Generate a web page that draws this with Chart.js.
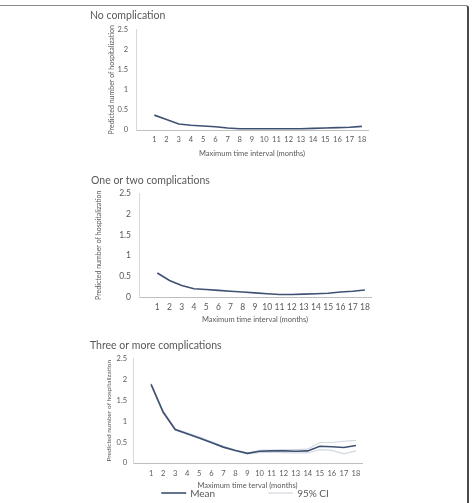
<!DOCTYPE html>
<html>
<head>
<meta charset="utf-8">
<script src="https://cdn.jsdelivr.net/npm/chart.js@4"></script>
<style>
    html, body { margin: 0; padding: 0; background: #fff; }
    body { width: 472px; height: 503px; position: relative; overflow: hidden; }
    canvas { position: absolute; left: 0; }
    #frame {
        position: absolute; left: -2px; top: 5px; width: 471px; height: 520px;
        border-top: 1px solid #8c8c8c; border-right: 2px solid #4a4a4a;
        border-top-right-radius: 3px; box-sizing: border-box;
    }
</style>
</head>
<body>
<div id="frame"></div>
<canvas id="chartNone" width="472" height="165" style="top:0px"></canvas>
<canvas id="chartOneTwo" width="472" height="165" style="top:165px"></canvas>
<canvas id="chartThree" width="472" height="173" style="top:330px"></canvas>
<script>
// Months on the x axis
const months = [1, 2, 3, 4, 5, 6, 7, 8, 9, 10, 11, 12, 13, 14, 15, 16, 17, 18];
const yTicks = [0, 0.5, 1, 1.5, 2, 2.5];

// Predicted number of hospitalization (mean)
const noCompMean = [0.37, 0.26, 0.15, 0.12, 0.10, 0.08, 0.05, 0.03, 0.03, 0.03, 0.03, 0.03, 0.03, 0.04, 0.05, 0.06, 0.07, 0.09];
const oneTwoMean = [0.58, 0.40, 0.28, 0.20, 0.18, 0.16, 0.14, 0.12, 0.10, 0.08, 0.06, 0.06, 0.07, 0.08, 0.09, 0.12, 0.14, 0.17];
const threeMean = [1.88, 1.22, 0.80, 0.70, 0.60, 0.49, 0.38, 0.30, 0.23, 0.28, 0.29, 0.29, 0.28, 0.29, 0.40, 0.39, 0.37, 0.42];
// 95% CI for three or more complications
const threeUpper = [1.90, 1.24, 0.82, 0.72, 0.62, 0.51, 0.40, 0.31, 0.24, 0.30, 0.31, 0.32, 0.32, 0.33, 0.49, 0.49, 0.52, 0.54];
const threeLower = [1.86, 1.20, 0.79, 0.69, 0.59, 0.48, 0.37, 0.29, 0.22, 0.25, 0.26, 0.25, 0.24, 0.24, 0.32, 0.30, 0.22, 0.29];

const FONT = 'Lato';
const TEXT = '#595959';
const MEAN_COLOR = '#3f5173';
const CI_COLOR = '#d3d9e2';

// Draws the "Mean ---- 95% CI" key under the last panel
const lineLegend = {
    id: 'lineLegend',
    afterDraw(chart, args, opts) {
        if (!opts.display) return;
        const ctx = chart.ctx;
        const items = chart.data.datasets.filter(d => d.inLegend);
        const sw = 25, gap = 4, spacing = 53;
        ctx.save();
        ctx.font = opts.fontSize + 'px ' + FONT;
        let total = 0;
        items.forEach((d, i) => {
            total += sw + gap + ctx.measureText(d.label).width + (i ? spacing : 0);
        });
        let x = opts.centerX - total / 2;
        const y = opts.y;
        items.forEach(d => {
            ctx.strokeStyle = d.borderColor;
            ctx.lineWidth = d.borderWidth;
            ctx.beginPath();
            ctx.moveTo(x, y);
            ctx.lineTo(x + sw, y);
            ctx.stroke();
            x += sw + gap;
            ctx.fillStyle = TEXT;
            ctx.textBaseline = 'middle';
            ctx.fillText(d.label, x, y + 1);
            x += ctx.measureText(d.label).width + spacing;
        });
        ctx.restore();
    }
};

function meanSet(values) {
    return {
        label: 'Mean',
        data: values,
        borderColor: MEAN_COLOR,
        borderWidth: 1.6,
        pointRadius: 0,
        inLegend: true,
        order: 0
    };
}

function ciSet(values, label) {
    return {
        label: label,
        data: values,
        borderColor: CI_COLOR,
        borderWidth: 1.2,
        pointRadius: 0,
        inLegend: !!label,
        order: 1
    };
}

function makePanel(id, titleText, datasets, g) {
    return new Chart(document.getElementById(id), {
        type: 'line',
        data: { labels: months, datasets: datasets },
        plugins: [lineLegend],
        options: {
            responsive: false,
            animation: false,
            layout: { padding: { left: g.left, right: g.right, top: 0, bottom: 0 } },
            scales: {
                x: {
                    type: 'linear',
                    min: -0.5,
                    max: 18.5,
                    afterBuildTicks: s => { s.ticks = months.map(m => ({ value: m })); },
                    afterFit: s => { s.height = g.xHeight; },
                    grid: { display: false, drawTicks: false },
                    border: { display: true, color: '#bfbfbf', width: 1 },
                    ticks: {
                        autoSkip: false, maxRotation: 0, color: TEXT, padding: g.xTickPad,
                        font: { family: FONT, size: g.tickSize, lineHeight: 1 },
                        callback: v => String(v)
                    },
                    title: {
                        display: true, text: g.xTitle, color: TEXT,
                        font: { family: FONT, size: 7.5, lineHeight: 1 },
                        padding: { top: 0, bottom: g.xTitlePad }
                    }
                },
                y: {
                    min: 0,
                    max: 2.5,
                    afterBuildTicks: s => { s.ticks = yTicks.map(v => ({ value: v })); },
                    afterFit: s => { s.width = g.yWidth; },
                    grid: { display: false, drawTicks: false },
                    border: { display: true, color: '#d9d9d9', width: 1 },
                    ticks: {
                        color: TEXT, padding: g.yTickPad,
                        font: { family: FONT, size: g.tickSize, lineHeight: 1 },
                        callback: v => String(v)
                    },
                    title: {
                        display: true, text: 'Predicted number of hospitalization', color: TEXT,
                        font: { family: FONT, size: g.yTitleSize, lineHeight: 1 },
                        padding: { top: g.yTitlePad, bottom: 0 }
                    }
                }
            },
            plugins: {
                legend: { display: false },
                tooltip: { enabled: false },
                title: {
                    display: true,
                    text: titleText,
                    align: 'start',
                    color: TEXT,
                    font: { family: FONT, size: 10.5, weight: 'normal', lineHeight: 1 },
                    padding: { top: g.titleTop, bottom: g.titleBottom }
                },
                lineLegend: g.legend || { display: false }
            }
        }
    });
}

document.addEventListener('DOMContentLoaded', function() {
    makePanel('chartNone', 'No complication', [meanSet(noCompMean)], {
        left: 90, right: 104, titleTop: 10.75, titleBottom: 8.25,
        yWidth: 46, yTickPad: 8, tickSize: 7.5, yTitleSize: 7, yTitlePad: 18.5,
        xHeight: 35, xTickPad: 6.25, xTitlePad: 7.25,
        xTitle: 'Maximum time interval (months)'
    });

    makePanel('chartOneTwo', 'One or two complications', [meanSet(oneTwoMean)], {
        left: 91, right: 101, titleTop: 10.75, titleBottom: 7.25,
        yWidth: 48, yTickPad: 8, tickSize: 8.5, yTitleSize: 7, yTitlePad: 4.5,
        xHeight: 33, xTickPad: 5.75, xTitlePad: 6.25,
        xTitle: 'Maximum time interval (months)'
    });

    makePanel('chartThree', 'Three or more complications',
        [meanSet(threeMean), ciSet(threeUpper, '95% CI'), ciSet(threeLower, '')], {
        left: 90, right: 110, titleTop: 10.75, titleBottom: 7.25,
        yWidth: 43, yTickPad: 6, tickSize: 7.5, yTitleSize: 6.5, yTitlePad: 15.75,
        xHeight: 40, xTickPad: 7.25, xTitlePad: 13.25,
        xTitle: 'Maximum time terval (months)',
        legend: { display: true, centerX: 245, y: 163, fontSize: 10 }
    });
});
</script>
</body>
</html>
